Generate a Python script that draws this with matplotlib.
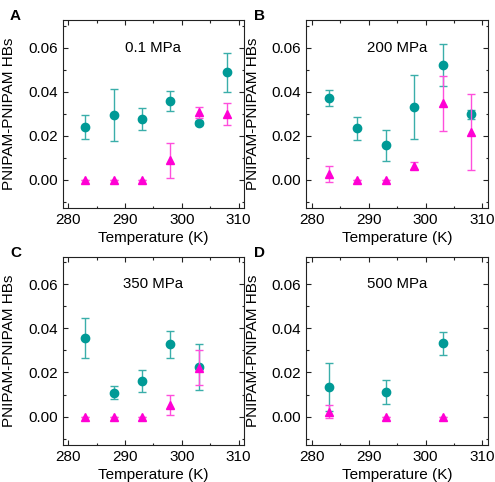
import matplotlib
matplotlib.use("Agg")
import matplotlib.pyplot as plt
from matplotlib.ticker import MultipleLocator

plt.rcParams['font.family'] = ['Liberation Sans', 'DejaVu Sans']

# Data
panel_letters = ['A', 'B', 'C', 'D']
pressures = ['0.1 MPa', '200 MPa', '350 MPa', '500 MPa']

tA = [283, 288, 293, 298, 303, 308]
teal_A = [0.0239, 0.0295, 0.0275, 0.0358, 0.0257, 0.0488]
teal_A_err = [0.0054, 0.0117, 0.0050, 0.0046, 0.0010, 0.0089]
mag_A = [0.0, 0.0, 0.0, 0.0088, 0.0307, 0.0298]
mag_A_err = [0.0, 0.0, 0.0, 0.0079, 0.0025, 0.0049]

tB = [283, 288, 293, 298, 303, 308]
teal_B = [0.0372, 0.0234, 0.0156, 0.0330, 0.0522, 0.0298]
teal_B_err = [0.0035, 0.0051, 0.0069, 0.0144, 0.0095, 0.0021]
mag_B = [0.0027, 0.0, 0.0, 0.0065, 0.0348, 0.0216]
mag_B_err = [0.0036, 0.0, 0.0, 0.0015, 0.0124, 0.0173]

tC = [283, 288, 293, 298, 303]
teal_C = [0.0357, 0.0109, 0.0160, 0.0328, 0.0224]
teal_C_err = [0.0091, 0.0030, 0.0050, 0.0061, 0.0105]
mag_C = [0.0, 0.0, 0.0, 0.0053, 0.0221]
mag_C_err = [0.0, 0.0, 0.0, 0.0045, 0.0079]

tD = [283, 293, 303]
teal_D = [0.0135, 0.0113, 0.0332]
teal_D_err = [0.0110, 0.0055, 0.0052]
mag_D = [0.0022, 0.0, 0.0]
mag_D_err = [0.0030, 0.0, 0.0]

temps = [tA, tB, tC, tD]
teals = [teal_A, teal_B, teal_C, teal_D]
teal_errs = [teal_A_err, teal_B_err, teal_C_err, teal_D_err]
mags = [mag_A, mag_B, mag_C, mag_D]
mag_errs = [mag_A_err, mag_B_err, mag_C_err, mag_D_err]

TEAL = '#009a96'
TEAL_E = '#3aaeaa'
MAG = '#ff00d4'
MAG_E = '#ff4fdc'

W, H = 495, 482
fig = plt.figure(figsize=(W / 100, H / 100), dpi=100)

lefts = [62.5, 306.3]
tops = [20, 256.7]
aw, ah = 181.8, 188.0

for i in range(4):
    r, c = divmod(i, 2)
    l = lefts[c]
    t = tops[r]
    ax = fig.add_axes([l / W, 1 - (t + ah) / H, aw / W, ah / H])
    ax.errorbar(temps[i], teals[i], yerr=teal_errs[i], fmt='o', color=TEAL,
                ecolor=TEAL_E, elinewidth=1.0, capsize=2.8, capthick=1.0,
                markersize=6, zorder=3)
    ax.errorbar(temps[i], mags[i], yerr=mag_errs[i], fmt='^', color=MAG,
                ecolor=MAG_E, elinewidth=1.0, capsize=2.8, capthick=1.0,
                markersize=6.4, zorder=4)
    ax.set_xlim(279, 311)
    ax.set_ylim(-0.0128, 0.0726)
    ax.xaxis.set_major_locator(MultipleLocator(10))
    ax.xaxis.set_minor_locator(MultipleLocator(5))
    ax.yaxis.set_major_locator(MultipleLocator(0.02))
    ax.yaxis.set_minor_locator(MultipleLocator(0.01))
    ax.yaxis.set_major_formatter(matplotlib.ticker.FormatStrFormatter('%.2f'))
    ax.tick_params(which='both', direction='in', top=True, right=True,
                   labelsize=11, width=0.8, color='#222222')
    ax.tick_params(which='major', length=3.5)
    ax.tick_params(which='minor', length=1.8)
    for s in ax.spines.values():
        s.set_linewidth(0.8)
        s.set_color('#222222')
    ax.set_xlabel('Temperature (K)', fontsize=11, labelpad=3)
    ax.set_ylabel('PNIPAM-PNIPAM HBs', fontsize=11)
    ax.yaxis.set_label_coords(-0.255, 0.5)
    ax.text(295, 0.060, pressures[i], ha='center', va='center', fontsize=10.8)
    fig.text((l - 52.5) / W, 1 - (t + 0.5) / H, panel_letters[i],
             fontsize=11, fontweight='bold', ha='left', va='baseline')

fig.savefig('out.png', dpi=100)
